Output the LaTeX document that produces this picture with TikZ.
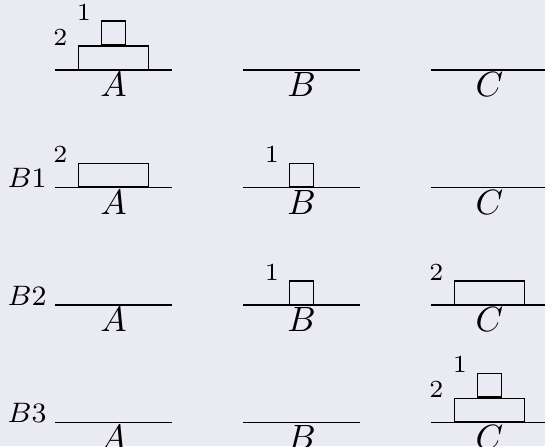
\documentclass[tikz,border=0pt]{standalone}
\usepackage{tikz}
\usetikzlibrary{positioning}
\definecolor{bgcol}{RGB}{234,234,243}
\tikzset{
  ground/.style={thin},
  disksmall/.style={draw, minimum width=0.235cm, minimum height=0.235cm, inner sep=0pt, anchor=south},
  diskbig/.style={draw, minimum width=0.705cm, minimum height=0.235cm, inner sep=0pt, anchor=south},
  disklabel/.style={font=\scriptsize, inner sep=0pt, anchor=base east, xshift=-2.7pt},
  peglabel/.style={inner sep=0.5pt, anchor=north},
  movelabel/.style={font=\footnotesize, inner sep=0pt, anchor=base east, xshift=-2.2pt}
}

\begin{document}
\begin{tikzpicture}
  \fill[bgcol] (0,0) rectangle (5.45,4.46);
  \useasboundingbox (0,0) rectangle (5.45,4.46);
  % the three pegs, once per row
  \foreach \row/\y in {0/3.76, 1/2.583, 2/1.41, 3/0.233}{
    \foreach \peg/\x in {A/1.135, B/3.015, C/4.895}{
      \coordinate (\peg\row) at (\x,\y);
      \coordinate (\peg\row w) at (\x-0.585,\y);
      \coordinate (\peg\row e) at (\x+0.585,\y);
      \draw[ground] (\peg\row w) -- (\peg\row e);
      \node[peglabel] (name\peg\row) at (\peg\row) {$\peg$};
    }
  }
  \node[movelabel] (move1) at (A1w) {$B1$};
  \node[movelabel] (move2) at (A2w) {$B2$};
  \node[movelabel] (move3) at (A3w) {$B3$};
  % start: both disks on A
  \node[diskbig] (big0) at (A0) {};
  \node[disksmall] (small0) at (big0.north) {};
  \node[disklabel] (nbig0) at (big0.north west) {2};
  \node[disklabel] (nsmall0) at (small0.north west) {1};
  % after B1
  \node[diskbig] (big1) at (A1) {};
  \node[disksmall] (small1) at (B1) {};
  \node[disklabel] (nbig1) at (big1.north west) {2};
  \node[disklabel] (nsmall1) at (small1.north west) {1};
  % after B2
  \node[disksmall] (small2) at (B2) {};
  \node[diskbig] (big2) at (C2) {};
  \node[disklabel] (nsmall2) at (small2.north west) {1};
  \node[disklabel] (nbig2) at (big2.north west) {2};
  % after B3
  \node[diskbig] (big3) at (C3) {};
  \node[disksmall] (small3) at (big3.north) {};
  \node[disklabel] (nbig3) at (big3.north west) {2};
  \node[disklabel] (nsmall3) at (small3.north west) {1};
\end{tikzpicture}
\end{document}
